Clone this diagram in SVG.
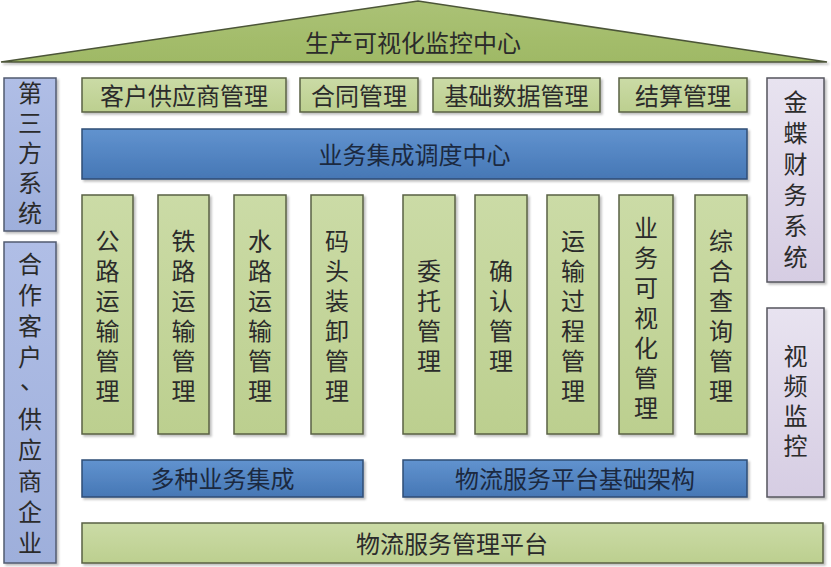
<svg xmlns="http://www.w3.org/2000/svg" width="831" height="567" viewBox="0 0 831 567">
<defs>
<linearGradient id="gGreen" x1="0" y1="0" x2="0" y2="1">
<stop offset="0" stop-color="#cbdba6"/>
<stop offset="1" stop-color="#bccf8f"/>
</linearGradient>
<linearGradient id="gBlue" x1="0" y1="0" x2="0" y2="1">
<stop offset="0" stop-color="#6193cf"/>
<stop offset="1" stop-color="#4677b5"/>
</linearGradient>
<linearGradient id="gLav" x1="0" y1="0" x2="0" y2="1">
<stop offset="0" stop-color="#b0bee6"/>
<stop offset="1" stop-color="#9eafdb"/>
</linearGradient>
<linearGradient id="gPur" x1="0" y1="0" x2="0" y2="1">
<stop offset="0" stop-color="#e8e3f0"/>
<stop offset="1" stop-color="#d6cde3"/>
</linearGradient>
<linearGradient id="gRoof" x1="0" y1="0" x2="0" y2="1">
<stop offset="0" stop-color="#abc276"/>
<stop offset="1" stop-color="#9fb965"/>
</linearGradient>
<filter id="sh" x="-10%" y="-10%" width="130%" height="130%">
<feDropShadow dx="2" dy="2" stdDeviation="1.2" flood-color="#000" flood-opacity="0.25"/>
</filter>
</defs>
<style>
.g{fill:url(#gGreen);stroke:#5a6145;stroke-width:1.5;filter:url(#sh)}
.b{fill:url(#gBlue);stroke:#2f4d75;stroke-width:1.5;filter:url(#sh)}
.l{fill:url(#gLav);stroke:#525b70;stroke-width:1.5;filter:url(#sh)}
.p{fill:url(#gPur);stroke:#56565e;stroke-width:1.5;filter:url(#sh)}
text{font-family:"Noto Sans CJK SC","Noto Sans CJK JP",sans-serif;font-size:24px;fill:#2b2b2b;text-anchor:middle;dominant-baseline:central}
.bt{fill:#1b2940}
</style>
<rect width="831" height="567" fill="#ffffff"/>

<g id="roof">
<polygon points="1,62 418,1 827,62" fill="url(#gRoof)" stroke="#4c5538" stroke-width="1.5" filter="url(#sh)"/>
<text x="413" y="41">生产可视化监控中心</text>
</g>

<g id="n-kehu"><rect class="g" x="82" y="78" width="204" height="34"/><text x="184" y="94">客户供应商管理</text></g>
<g id="n-hetong"><rect class="g" x="300" y="78" width="118" height="34"/><text x="359" y="94">合同管理</text></g>
<g id="n-jichu"><rect class="g" x="433" y="78" width="167" height="34"/><text x="516.5" y="94">基础数据管理</text></g>
<g id="n-jiesuan"><rect class="g" x="619" y="78" width="128" height="34"/><text x="683" y="94">结算管理</text></g>

<g id="n-diaodu"><rect class="b" x="82" y="129" width="665" height="50"/><text class="bt" x="414.5" y="153">业务集成调度中心</text></g>

<g id="n-gonglu"><rect class="g" x="82" y="195" width="51" height="239"/>
<text x="107.5"><tspan x="107.5" y="238.5">公</tspan><tspan x="107.5" y="268.5">路</tspan><tspan x="107.5" y="298.5">运</tspan><tspan x="107.5" y="328.5">输</tspan><tspan x="107.5" y="358.5">管</tspan><tspan x="107.5" y="388.5">理</tspan></text></g>
<g id="n-tielu"><rect class="g" x="158" y="195" width="51" height="239"/>
<text x="183.5"><tspan x="183.5" y="238.5">铁</tspan><tspan x="183.5" y="268.5">路</tspan><tspan x="183.5" y="298.5">运</tspan><tspan x="183.5" y="328.5">输</tspan><tspan x="183.5" y="358.5">管</tspan><tspan x="183.5" y="388.5">理</tspan></text></g>
<g id="n-shuilu"><rect class="g" x="234" y="195" width="52" height="239"/>
<text x="260"><tspan x="260" y="238.5">水</tspan><tspan x="260" y="268.5">路</tspan><tspan x="260" y="298.5">运</tspan><tspan x="260" y="328.5">输</tspan><tspan x="260" y="358.5">管</tspan><tspan x="260" y="388.5">理</tspan></text></g>
<g id="n-matou"><rect class="g" x="311" y="195" width="52" height="239"/>
<text x="337"><tspan x="337" y="238.5">码</tspan><tspan x="337" y="268.5">头</tspan><tspan x="337" y="298.5">装</tspan><tspan x="337" y="328.5">卸</tspan><tspan x="337" y="358.5">管</tspan><tspan x="337" y="388.5">理</tspan></text></g>
<g id="n-weituo"><rect class="g" x="403" y="195" width="52" height="239"/>
<text x="429"><tspan x="429" y="268.5">委</tspan><tspan x="429" y="298.5">托</tspan><tspan x="429" y="328.5">管</tspan><tspan x="429" y="358.5">理</tspan></text></g>
<g id="n-queren"><rect class="g" x="475" y="195" width="52" height="239"/>
<text x="501"><tspan x="501" y="268.5">确</tspan><tspan x="501" y="298.5">认</tspan><tspan x="501" y="328.5">管</tspan><tspan x="501" y="358.5">理</tspan></text></g>
<g id="n-guocheng"><rect class="g" x="547" y="195" width="52" height="239"/>
<text x="573"><tspan x="573" y="238.5">运</tspan><tspan x="573" y="268.5">输</tspan><tspan x="573" y="298.5">过</tspan><tspan x="573" y="328.5">程</tspan><tspan x="573" y="358.5">管</tspan><tspan x="573" y="388.5">理</tspan></text></g>
<g id="n-keshihua"><rect class="g" x="619" y="195" width="54" height="239"/>
<text x="646"><tspan x="646" y="226">业</tspan><tspan x="646" y="256">务</tspan><tspan x="646" y="286">可</tspan><tspan x="646" y="316">视</tspan><tspan x="646" y="346">化</tspan><tspan x="646" y="376">管</tspan><tspan x="646" y="406">理</tspan></text></g>
<g id="n-chaxun"><rect class="g" x="695" y="195" width="52" height="239"/>
<text x="721"><tspan x="721" y="238.5">综</tspan><tspan x="721" y="268.5">合</tspan><tspan x="721" y="298.5">查</tspan><tspan x="721" y="328.5">询</tspan><tspan x="721" y="358.5">管</tspan><tspan x="721" y="388.5">理</tspan></text></g>

<g id="n-duozhong"><rect class="b" x="82" y="460" width="281" height="37"/><text class="bt" x="222.5" y="477.5">多种业务集成</text></g>
<g id="n-jiagou"><rect class="b" x="403" y="460" width="344" height="37"/><text class="bt" x="575" y="477.5">物流服务平台基础架构</text></g>

<g id="n-pingtai"><rect class="g" x="82" y="523" width="741" height="40"/><text x="452" y="542">物流服务管理平台</text></g>

<g id="n-disanfang"><rect class="l" x="4" y="78" width="52" height="153"/>
<text x="30"><tspan x="30" y="91">第</tspan><tspan x="30" y="121">三</tspan><tspan x="30" y="151">方</tspan><tspan x="30" y="181">系</tspan><tspan x="30" y="211">统</tspan></text></g>
<g id="n-hezuo"><rect class="l" x="4" y="242" width="52" height="321"/>
<text x="30"><tspan x="30" y="262">合</tspan><tspan x="30" y="293">作</tspan><tspan x="30" y="324">客</tspan><tspan x="30" y="355">户</tspan><tspan x="32" y="378">、</tspan><tspan x="30" y="417">供</tspan><tspan x="30" y="448">应</tspan><tspan x="30" y="479">商</tspan><tspan x="30" y="510">企</tspan><tspan x="30" y="541">业</tspan></text></g>

<g id="n-jindie"><rect class="p" x="767" y="78" width="57" height="204"/>
<text x="795.5"><tspan x="795.5" y="100">金</tspan><tspan x="795.5" y="131">蝶</tspan><tspan x="795.5" y="162">财</tspan><tspan x="795.5" y="193">务</tspan><tspan x="795.5" y="224">系</tspan><tspan x="795.5" y="255">统</tspan></text></g>
<g id="n-shipin"><rect class="p" x="767" y="308" width="57" height="189"/>
<text x="795.5"><tspan x="795.5" y="354">视</tspan><tspan x="795.5" y="384">频</tspan><tspan x="795.5" y="414">监</tspan><tspan x="795.5" y="444">控</tspan></text></g>

<g id="connectors"></g>
</svg>
